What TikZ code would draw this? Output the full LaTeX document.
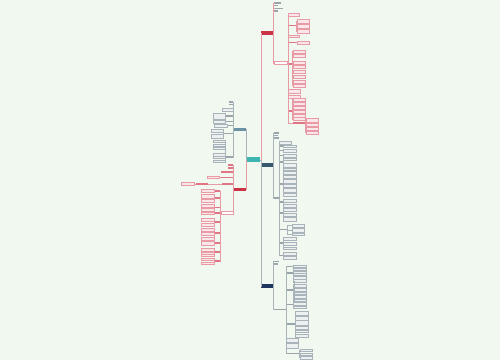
\documentclass[tikz,border=0pt]{standalone}
\usepackage{tikz}

\definecolor{bgmint}{HTML}{F0F8F0}
\definecolor{hubteal}{HTML}{3DB5B0}
\definecolor{mainred}{HTML}{CC3344}
\definecolor{mainslate}{HTML}{36596E}
\definecolor{mainnavy}{HTML}{1E3560}
\definecolor{mainsteel}{HTML}{6B93A3}
\definecolor{pinkline}{HTML}{E89AA5}
\definecolor{pinkfill}{HTML}{FBE6EA}
\definecolor{pinktag}{HTML}{E07585}
\definecolor{greyline}{HTML}{A9B4BA}
\definecolor{greyfill}{HTML}{EDF0F1}
\definecolor{greytag}{HTML}{9AA5AB}

\begin{document}
\begin{tikzpicture}[x=1pt,y=-1pt,
    every node/.style={inner sep=0pt,outer sep=0pt,anchor=west},
    hubbox/.style={fill=hubteal,minimum width=13.5,minimum height=4.5},
    mainbox/.style={minimum width=12,minimum height=3.4},
    subR/.style={draw=pinkline,fill=white,line width=0.3pt,minimum height=3},
    leafR/.style={draw=pinkline,fill=pinkfill,line width=0.25pt,minimum width=12.5},
    leafG/.style={draw=greyline,fill=greyfill,line width=0.25pt,minimum width=12.5},
    tagR/.style={fill=pinktag,minimum height=1.1},
    tagG/.style={fill=greytag,minimum height=1.1},
    linkR/.style={draw=pinkline,line width=0.3pt},
    linkG/.style={draw=greyline,line width=0.3pt}]

  \fill[bgmint] (0,0) rectangle (500,360);
  \useasboundingbox (0,0) rectangle (500,360);

  % centre and the five branches
  \node[hubbox] (hub) at (246.7,159.7) {};
  \node[mainbox,fill=mainred] (top) at (261,33) {};
  \node[mainbox,fill=mainslate] (mid) at (261,165) {};
  \node[mainbox,fill=mainnavy] (low) at (261,286) {};
  \node[mainbox,fill=mainsteel,anchor=east] (lup) at (245.7,129.5) {};
  \node[mainbox,fill=mainred,anchor=east] (ldn) at (245.7,189.5) {};

  \draw[linkR] (hub.east) -- ++(0.7,0) |- (top.west);
  \draw[linkG] (hub.east) -- ++(0.7,0) |- (mid.west);
  \draw[linkG] (hub.east) -- ++(0.7,0) |- (low.west);
  \draw[linkG] (hub.west) -- ++(-0.5,0) |- (lup.east);
  \draw[linkR] (hub.west) -- ++(-0.5,0) |- (ldn.east);

  % ---- top right branch
  \foreach \y/\w [count=\n] in {3/7,5.5/4,8.5/9,11/4}{
    \node[tagG,minimum width=\w] (top-\n) at (273.8,\y) {};
    \draw[linkR] (top.east) -- ++(0.6,0) |- (top-\n.west);
  }
  \node[subR,minimum width=13.5] (topsub) at (273.8,63) {};
  \draw[linkR] (top.east) -- ++(0.6,0) |- (topsub.west);

  \node[leafR,minimum width=11,minimum height=3.5] (ts1) at (288,14.5) {};
  \node[tagR,minimum width=8] (ts2) at (288,25.5) {};
  \node[leafR,minimum width=11,minimum height=2.5] (ts3) at (288,36) {};
  \node[tagR,minimum width=8] (ts4) at (288,42.5) {};
  \node[tagR,minimum width=4] (ts5) at (288,64) {};
  \node[leafR,minimum width=12,minimum height=3.5] (ts6) at (288,91) {};
  \node[leafR,minimum width=12,minimum height=3] (ts7) at (288,96.5) {};
  \node[tagR,minimum width=4] (ts8) at (288,111) {};
  \node[tagR,minimum width=12] (ts9) at (293,123) {};
  \foreach \n in {1,...,9}
    \draw[linkR] (topsub.east) -- ++(0.4,0) |- (ts\n.west);

  \foreach \y/\h [count=\n] in {21/4,26/4,31.5/4}{
    \node[leafR,minimum height=\h] (ts2-\n) at (297,\y) {};
    \draw[linkR] (ts2.east) -- ++(0.5,0) |- (ts2-\n.west);
  }
  \node[leafR,minimum height=2.5] (ts4-1) at (297,42.5) {};
  \draw[linkR] (ts4.east) -- (ts4-1.west);
  \foreach \y/\h [count=\n] in {51.5/3.5,55.5/3.5,62.5/3,66.5/3,71.5/3,76.5/3,81.5/3,85.5/3}{
    \node[leafR,minimum height=\h] (ts5-\n) at (293,\y) {};
    \draw[linkR] (ts5.east) -- ++(0.5,0) |- (ts5-\n.west);
  }
  \foreach \y/\h [count=\n] in {99.5/3,103.5/3,107.5/3,111.5/3,115.5/3,119/3}{
    \node[leafR,minimum height=\h] (ts8-\n) at (293,\y) {};
    \draw[linkR] (ts8.east) -- ++(0.5,0) |- (ts8-\n.west);
  }
  \foreach \y/\h [count=\n] in {120/3.5,124.5/3,128.5/3,132.5/3}{
    \node[leafR,minimum height=\h] (ts9-\n) at (306,\y) {};
    \draw[linkR] (ts9.east) -- ++(0.5,0) |- (ts9-\n.west);
  }

  % ---- middle right branch
  \foreach \y/\w [count=\n] in {133/5,135.5/4,138/5,198/5}{
    \node[tagG,minimum width=\w] (mid-\n) at (273.8,\y) {};
    \draw[linkG] (mid.east) -- ++(0.6,0) |- (mid-\n.west);
  }
  \node[leafG,minimum width=12,minimum height=3] (g1) at (279,142.5) {};
  \foreach \y/\w [count=\n from 2] in {146/4,150.5/4,155.5/4,162/4,184/4,202/4,213/4,229.5/8,243/4,255.5/4}{
    \node[tagG,minimum width=\w] (g\n) at (279,\y) {};
  }
  \foreach \n in {1,...,11}
    \draw[linkG] (mid-4.east) -- ++(0.2,0) |- (g\n.west);

  \foreach \g/\lst in {2/{146/2.5},3/{150.5/3},4/{155.5/3},5/{159/2.5,165/4,169/2.5},
      6/{172.5/3,176.5/3,181/3.5,185.5/3,190/3.5,194.5/3},7/{201/3,205.5/3},
      8/{209.5/3,214.5/3,219/3.5},10/{238.5/3,243.5/3,248/2.5},11/{253.5/3,257.5/3}}{
    \foreach \y/\h [count=\n] in \lst{
      \node[leafG,minimum height=\h] (g\g-\n) at (283.5,\y) {};
      \draw[linkG] (g\g.east) -- ++(0.4,0) |- (g\g-\n.west);
    }
  }
  \foreach \y/\h [count=\n] in {225.5/3,230/3.5,234/2.5}{
    \node[leafG,minimum height=\h] (g9-\n) at (292,\y) {};
    \draw[linkG] (g9.east) -- ++(0.4,0) |- (g9-\n.west);
  }

  % ---- lower right branch
  \foreach \y/\w [count=\n] in {261.5/5,264/4,309.5/12}{
    \node[tagG,minimum width=\w] (low-\n) at (273.8,\y) {};
    \draw[linkG] (low.east) -- ++(0.6,0) |- (low-\n.west);
  }
  \foreach \y/\w [count=\n] in {266.5/5,273/6,290/7,304.5/6,324/8}{
    \node[tagG,minimum width=\w] (h\n) at (286.5,\y) {};
  }
  \node[leafG,minimum width=12,minimum height=4] (h6) at (286.5,340) {};
  \node[leafG,minimum width=12,minimum height=4.5] (h7) at (286.5,345.5) {};
  \node[tagG,minimum width=12] (h8) at (286.5,353.5) {};
  \foreach \n in {1,...,8}
    \draw[linkG] (low-3.east) -- ++(0.4,0) |- (h\n.west);

  \foreach \g/\lst in {1/{266.5/2},2/{269.5/2,272/2,274.5/2,277.5/2.5},
      3/{281/3,285.5/3,289.5/3,293/2.5,296.5/3,300/2.5},4/{303.5/3,307/2.5}}{
    \foreach \y/\h [count=\n] in \lst{
      \node[leafG,minimum height=\h] (h\g-\n) at (293.5,\y) {};
      \draw[linkG] (h\g.east) -- ++(0.4,0) |- (h\g-\n.west);
    }
  }
  \foreach \y/\h [count=\n] in {313/4,318/4,322.5/4.5,327.5/3.5,331/2.5,335.5/3}{
    \node[leafG,minimum height=\h] (h5-\n) at (295.5,\y) {};
    \draw[linkG] (h5.east) -- ++(0.4,0) |- (h5-\n.west);
  }
  \foreach \y/\h [count=\n] in {350.5/2,354/2.5,357.5/2.5}{
    \node[leafG,minimum height=\h] (h8-\n) at (300,\y) {};
    \draw[linkG] (h8.east) -- ++(0.4,0) |- (h8-\n.west);
  }

  % ---- left side
  \begin{scope}[every node/.append style={anchor=east}]
    % upper left branch
    \foreach \y/\w [count=\n] in {102/4,104.5/4,116/7,121.5/7,125.5/5,133.5/9,157/7}{
      \node[tagG,minimum width=\w] (lu\n) at (232.8,\y) {};
    }
    \node[leafG,minimum width=11,minimum height=3.5] (lu8) at (232.8,109.5) {};
    \foreach \n in {1,...,8}
      \draw[linkG] (lup.west) -- ++(-0.5,0) |- (lu\n.east);

    \node[leafG,minimum width=12,minimum height=6] (lu3-1) at (225,116) {};
    \draw[linkG] (lu3.west) -- (lu3-1.east);
    \node[leafG,minimum width=12,minimum height=2.5] (lu4-1) at (225,121.5) {};
    \draw[linkG] (lu4.west) -- (lu4-1.east);
    \node[leafG,minimum width=13,minimum height=3] (lu5-1) at (227,125.5) {};
    \draw[linkG] (lu5.west) -- (lu5-1.east);
    \foreach \y/\h [count=\n] in {130.5/3,136/4}{
      \node[leafG,minimum width=12,minimum height=\h] (lu6-\n) at (223,\y) {};
      \draw[linkG] (lu6.west) -- ++(-0.4,0) |- (lu6-\n.east);
    }
    \foreach \y/\h [count=\n] in {141/2,145/2,148.5/2,154.5/3,157.5/2,161/2}{
      \node[leafG,minimum width=12,minimum height=\h] (lu7-\n) at (225,\y) {};
      \draw[linkG] (lu7.west) -- ++(-0.4,0) |- (lu7-\n.east);
    }

    % lower left branch
    \foreach \y/\w [count=\n] in {165/5,168/5,172/12,177.5/12,184/11}{
      \node[tagR,minimum width=\w] (ld\n) at (232.8,\y) {};
    }
    \node[subR,minimum width=12] (ldsub) at (232.8,213) {};
    \foreach \n in {1,...,5}
      \draw[linkR] (ldn.west) -- ++(-0.5,0) |- (ld\n.east);
    \draw[linkR] (ldn.west) -- ++(-0.5,0) |- (ldsub.east);

    \node[leafR,minimum width=12,minimum height=2] (ld4-1) at (219.5,177.5) {};
    \draw[linkR] (ld4.west) -- (ld4-1.east);
    \node[tagR,minimum width=12] (ld5-1) at (207.5,184) {};
    \draw[linkR] (ld5.west) -- (ld5-1.east);
    \node[leafR,minimum width=13,minimum height=3] (ld5-2) at (194.5,184) {};
    \draw[linkR] (ld5-1.west) -- (ld5-2.east);

    \foreach \y [count=\n] in {191,198,207.5,213,222,233,243,252,261}{
      \node[tagR,minimum width=5] (p\n) at (219.5,\y) {};
      \draw[linkR] (ldsub.west) -- ++(-0.5,0) |- (p\n.east);
    }
    \foreach \g/\lst in {1/{190.5/3},2/{196/4,200.5/3},3/{205.5/3,209.5/3},4/{213/2.5},
        5/{219.5/3,224.5/3},6/{229.5/3,233.5/3,238.5/3},7/{243/4},
        8/{249.5/3,253/2,255.5/2},9/{259/2,263/2}}{
      \foreach \y/\h [count=\n] in \lst{
        \node[leafR,minimum width=13,minimum height=\h] (p\g-\n) at (213.8,\y) {};
        \draw[linkR] (p\g.west) -- ++(-0.3,0) |- (p\g-\n.east);
      }
    }
  \end{scope}
\end{tikzpicture}
\end{document}
